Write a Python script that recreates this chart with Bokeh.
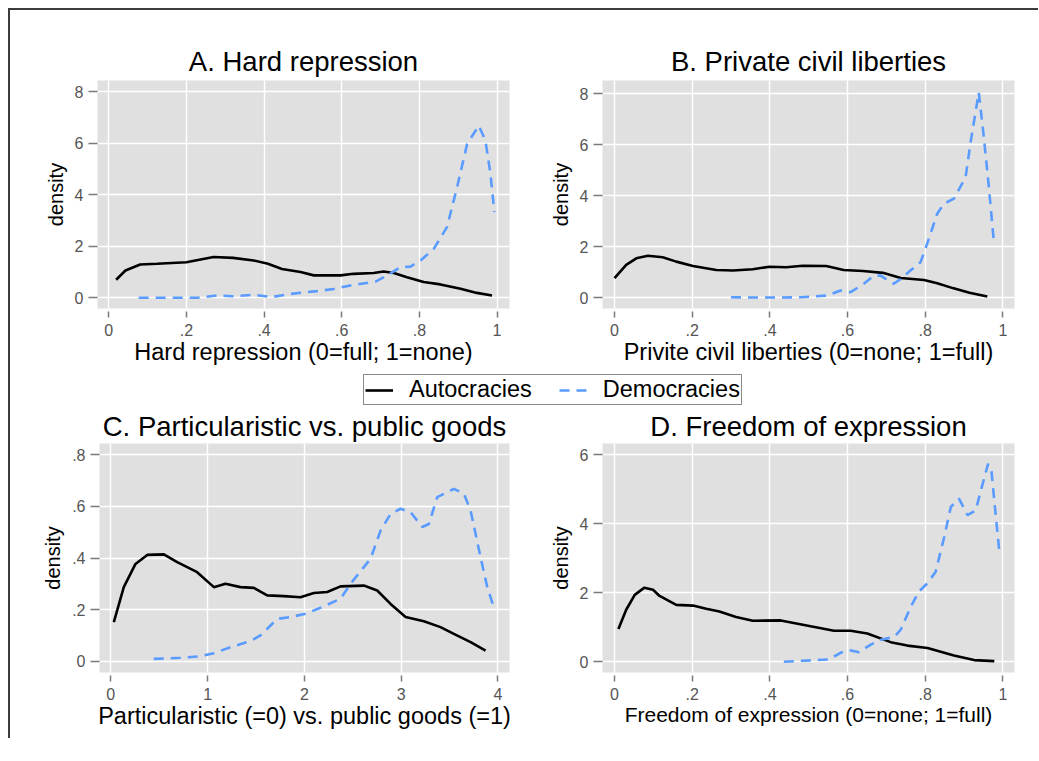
from bokeh.plotting import figure
from bokeh.models import Range1d, FixedTicker, Legend, LegendItem
from bokeh.layouts import column, row
from bokeh.embed import file_html
from bokeh.resources import INLINE

FONT = "Liberation Sans"

# ---------------- data ----------------
a_aut_x = [0.019, 0.043, 0.081, 0.124, 0.2, 0.27, 0.32, 0.373, 0.41, 0.446, 0.494, 0.528, 0.597, 0.63, 0.682, 0.708, 0.734, 0.768, 0.811, 0.854, 0.906, 0.948, 0.987]
a_aut_y = [0.70, 1.06, 1.29, 1.32, 1.38, 1.58, 1.55, 1.45, 1.32, 1.12, 1.0, 0.87, 0.87, 0.93, 0.96, 1.02, 0.96, 0.80, 0.61, 0.52, 0.35, 0.19, 0.09]
a_dem_x = [0.077, 0.15, 0.227, 0.279, 0.32, 0.373, 0.42, 0.468, 0.536, 0.579, 0.622, 0.687, 0.717, 0.751, 0.777, 0.803, 0.837, 0.871, 0.897, 0.923, 0.953, 0.970, 0.983, 0.993]
a_dem_y = [0.0, 0.0, 0.0, 0.09, 0.06, 0.12, 0.03, 0.15, 0.26, 0.34, 0.48, 0.63, 0.87, 1.19, 1.21, 1.45, 1.90, 2.74, 4.29, 5.97, 6.68, 6.10, 4.81, 3.32]

b_aut_x = [0.0, 0.03, 0.056, 0.086, 0.124, 0.159, 0.202, 0.262, 0.305, 0.356, 0.399, 0.442, 0.485, 0.545, 0.59, 0.64, 0.691, 0.737, 0.797, 0.831, 0.871, 0.914, 0.960]
b_aut_y = [0.76, 1.28, 1.54, 1.64, 1.58, 1.41, 1.24, 1.08, 1.06, 1.11, 1.21, 1.19, 1.25, 1.24, 1.08, 1.04, 0.97, 0.77, 0.69, 0.56, 0.37, 0.19, 0.04]
b_dem_x = [0.30, 0.356, 0.408, 0.479, 0.548, 0.582, 0.608, 0.642, 0.668, 0.685, 0.719, 0.737, 0.762, 0.788, 0.805, 0.831, 0.848, 0.874, 0.904, 0.918, 0.938, 0.951, 0.964, 0.977]
b_dem_y = [0.01, 0.0, 0.0, 0.01, 0.08, 0.28, 0.21, 0.54, 0.86, 0.86, 0.54, 0.73, 1.06, 1.39, 2.11, 3.29, 3.68, 3.88, 4.72, 6.2, 8.05, 6.3, 4.33, 2.17]

c_aut_x = [0.031, 0.134, 0.255, 0.376, 0.548, 0.686, 0.892, 1.065, 1.185, 1.34, 1.478, 1.616, 1.788, 1.960, 2.098, 2.236, 2.374, 2.615, 2.753, 2.891, 3.046, 3.235, 3.407, 3.545, 3.718, 3.873]
c_aut_y = [0.151, 0.287, 0.377, 0.412, 0.414, 0.384, 0.345, 0.287, 0.300, 0.287, 0.284, 0.255, 0.252, 0.248, 0.264, 0.268, 0.290, 0.293, 0.274, 0.222, 0.171, 0.155, 0.132, 0.106, 0.074, 0.041]
c_dem_x = [0.444, 0.72, 0.927, 1.065, 1.237, 1.444, 1.547, 1.72, 1.857, 2.012, 2.167, 2.374, 2.477, 2.684, 2.788, 2.891, 2.994, 3.097, 3.218, 3.287, 3.373, 3.545, 3.649, 3.718, 3.821, 3.89, 3.952]
c_dem_y = [0.009, 0.013, 0.019, 0.031, 0.054, 0.078, 0.10, 0.164, 0.171, 0.184, 0.207, 0.242, 0.30, 0.397, 0.507, 0.571, 0.591, 0.578, 0.52, 0.532, 0.636, 0.668, 0.649, 0.584, 0.403, 0.287, 0.216]

d_aut_x = [0.010, 0.03, 0.052, 0.077, 0.099, 0.116, 0.159, 0.202, 0.236, 0.270, 0.313, 0.356, 0.428, 0.505, 0.565, 0.608, 0.651, 0.711, 0.754, 0.806, 0.874, 0.926, 0.978]
d_aut_y = [0.95, 1.51, 1.94, 2.15, 2.09, 1.91, 1.65, 1.63, 1.54, 1.46, 1.30, 1.19, 1.20, 1.03, 0.90, 0.90, 0.82, 0.57, 0.47, 0.40, 0.18, 0.05, 0.02]
d_dem_x = [0.436, 0.485, 0.552, 0.582, 0.604, 0.63, 0.66, 0.686, 0.72, 0.737, 0.763, 0.784, 0.806, 0.827, 0.849, 0.866, 0.887, 0.909, 0.930, 0.948, 0.962, 0.971, 0.982, 0.992]
d_dem_y = [0.0, 0.03, 0.07, 0.26, 0.34, 0.28, 0.50, 0.64, 0.72, 0.93, 1.60, 2.04, 2.28, 2.61, 3.62, 4.49, 4.73, 4.25, 4.39, 5.16, 5.74, 5.50, 4.20, 3.09]

unit_ticks = [0, 0.2, 0.4, 0.6, 0.8, 1]
unit_labels = ["0", ".2", ".4", ".6", ".8", "1"]
c_x_ticks = [0, 1, 2, 3, 4]
c_x_labels = ["0", "1", "2", "3", "4"]
ab_y_ticks = [0, 2, 4, 6, 8]
ab_y_labels = ["0", "2", "4", "6", "8"]
c_y_ticks = [0, 0.2, 0.4, 0.6, 0.8]
c_y_labels = ["0", ".2", ".4", ".6", ".8"]
d_y_ticks = [0, 2, 4, 6]
d_y_labels = ["0", "2", "4", "6"]

titles = ["A. Hard repression", "B. Private civil liberties",
          "C. Particularistic vs. public goods", "D. Freedom of expression"]
xlabels = ["Hard repression (0=full; 1=none)", "Privite civil liberties (0=none; 1=full)",
           "Particularistic (=0) vs. public goods (=1)", "Freedom of expression (0=none; 1=full)"]
series_names = ["Autocracies", "Democracies"]

AUT_COLOR = "black"
DEM_COLOR = "#5a9bff"


def panel(title, xlabel, xr, yr, xt, xl, yt, yl, ax, ay, dx, dy,
          fw, fh, mbl, mbr, mbt, mbb, title_standoff, xlabel_size="23.5px"):
    p = figure(frame_width=fw, frame_height=fh,
               x_range=Range1d(*xr), y_range=Range1d(*yr),
               output_backend="svg", toolbar_location=None,
               min_border_left=mbl, min_border_right=mbr,
               min_border_top=mbt, min_border_bottom=mbb)
    p.background_fill_color = "#e0e0e0"
    p.border_fill_color = "white"
    p.outline_line_color = None

    p.title.text = title
    p.title.align = "center"
    p.title.text_font = FONT
    p.title.text_font_size = "27.5px"
    p.title.text_font_style = "normal"
    p.title.text_color = "black"
    p.title.standoff = title_standoff

    p.xaxis.ticker = FixedTicker(ticks=xt)
    p.xaxis.major_label_overrides = dict(zip(xt, xl))
    p.yaxis.ticker = FixedTicker(ticks=yt)
    p.yaxis.major_label_overrides = dict(zip(yt, yl))

    for ax_ in (p.xaxis[0], p.yaxis[0]):
        ax_.axis_line_color = None
        ax_.minor_tick_line_color = None
        ax_.major_tick_line_color = "#7a7a7a"
        ax_.major_tick_line_width = 1.5
        ax_.major_label_text_font = FONT
        ax_.major_label_text_font_size = "16px"
        ax_.major_label_text_color = "#555555"
        ax_.axis_label_text_font = FONT
        ax_.axis_label_text_font_style = "normal"
        ax_.axis_label_text_color = "black"
    p.xaxis.major_tick_in = -3
    p.xaxis.major_tick_out = 9
    p.xaxis.major_label_standoff = 6
    p.xaxis.axis_label = xlabel
    p.xaxis.axis_label_text_font_size = xlabel_size
    p.xaxis.axis_label_standoff = 0
    p.yaxis.major_tick_in = 0
    p.yaxis.major_tick_out = 9
    p.yaxis.major_label_standoff = 5
    p.yaxis.major_label_orientation = "horizontal"
    p.yaxis.axis_label = "density"
    p.yaxis.axis_label_text_font_size = "20px"
    p.yaxis.axis_label_standoff = 5

    p.xgrid.grid_line_color = "white"
    p.xgrid.grid_line_width = 1.5
    p.ygrid.grid_line_color = "white"
    p.ygrid.grid_line_width = 1.5

    p.line(ax, ay, line_color=AUT_COLOR, line_width=2.6)
    p.line(dx, dy, line_color=DEM_COLOR, line_width=2.6, line_dash="10 7")
    return p


pa = panel(titles[0], xlabels[0], (-0.029, 1.032), (-0.415, 8.43), unit_ticks, unit_labels,
           ab_y_ticks, ab_y_labels, a_aut_x, a_aut_y, a_dem_x, a_dem_y,
           412, 228, 87, 10, 70, 62, 8)
pb = panel(titles[1], xlabels[1], (-0.031, 1.03), (-0.43, 8.52), unit_ticks, unit_labels,
           ab_y_ticks, ab_y_labels, b_aut_x, b_aut_y, b_dem_x, b_dem_y,
           412, 228, 83, 24, 70, 62, 8)
pc = panel(titles[2], xlabels[2], (-0.117, 4.12), (-0.044, 0.844), c_x_ticks, c_x_labels,
           c_y_ticks, c_y_labels, c_aut_x, c_aut_y, c_dem_x, c_dem_y,
           410, 229, 89, 10, 36, 66, 3)
pd = panel(titles[3], xlabels[3], (-0.031, 1.03), (-0.31, 6.33), unit_ticks, unit_labels,
           d_y_ticks, d_y_labels, d_aut_x, d_aut_y, d_dem_x, d_dem_y,
           412, 229, 83, 24, 36, 66, 3, xlabel_size="21px")

# legend strip (series drawn outside the visible range; only the legend shows)
lf = figure(width=1028, height=37, output_backend="svg", toolbar_location=None,
            x_axis_location=None, y_axis_location=None, min_border=0,
            x_range=Range1d(5, 6), y_range=Range1d(50, 60))
lf.outline_line_color = None
lf.xgrid.visible = False
lf.ygrid.visible = False
lf.border_fill_color = "white"
lf.background_fill_color = "white"
r1 = lf.line(a_aut_x, a_aut_y, line_color=AUT_COLOR, line_width=2.6)
r2 = lf.line(a_dem_x, a_dem_y, line_color=DEM_COLOR, line_width=2.6, line_dash="10 7")
leg = Legend(items=[LegendItem(label=series_names[0], renderers=[r1]),
                    LegendItem(label=series_names[1], renderers=[r2])],
             orientation="horizontal", location=(353, 2))
leg.label_text_font = FONT
leg.label_text_font_size = "23.5px"
leg.label_text_color = "black"
leg.glyph_width = 28
leg.glyph_height = 20
leg.label_height = 21
leg.label_standoff = 16
leg.spacing = 27
leg.padding = 1
leg.margin = 0
leg.border_line_color = "#8a8a8a"
leg.border_line_width = 1.5
leg.border_line_alpha = 1.0
lf.add_layout(leg)

layout = column(row(pa, pb), lf, row(pc, pd),
                styles={"margin-left": "8px", "margin-top": "8px",
                        "border-left": "2px solid #3c3c3c", "border-top": "2px solid #3c3c3c"})

open("out.html", "w").write(file_html(layout, INLINE))
